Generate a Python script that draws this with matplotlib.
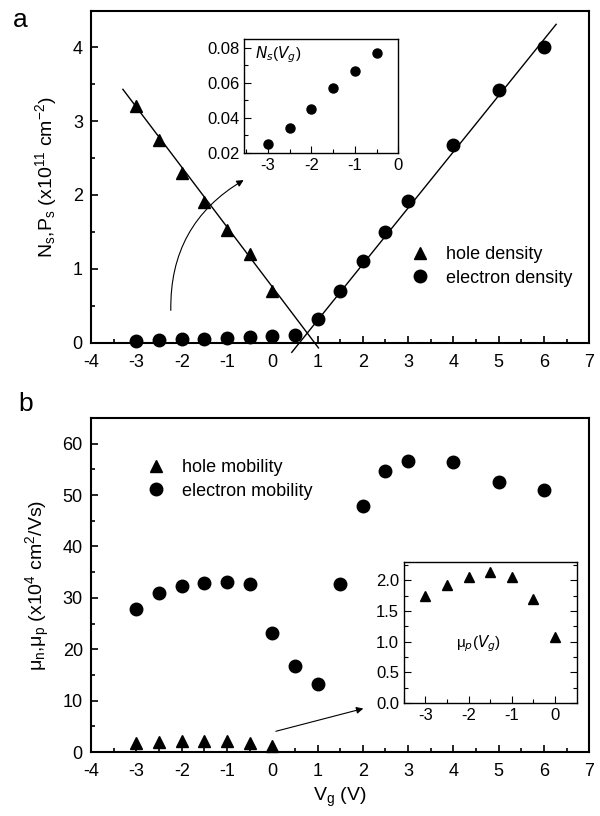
import matplotlib
matplotlib.use("Agg")
import matplotlib.pyplot as plt
from matplotlib.patches import FancyArrowPatch

plt.rcParams['font.family'] = ['Liberation Sans', 'DejaVu Sans']
plt.rcParams['mathtext.default'] = 'regular'
plt.rcParams['axes.unicode_minus'] = False

# panel a: carrier densities (x10^11 cm^-2)
vg_hole = [-3, -2.5, -2, -1.5, -1, -0.5, 0]
hole_density = [3.2, 2.75, 2.3, 1.9, 1.53, 1.2, 0.7]
vg_elec = [-3, -2.5, -2, -1.5, -1, -0.5, 0, 0.5, 1, 1.5, 2, 2.5, 3, 4, 5, 6]
elec_density = [0.025, 0.034, 0.045, 0.057, 0.067, 0.077, 0.09, 0.1,
                0.32, 0.7, 1.1, 1.5, 1.92, 2.68, 3.42, 4.0]
# linear fits (end points)
hole_fit_x = [-3.3, 1.02]
hole_fit_y = [3.43, -0.07]
elec_fit_x = [0.43, 6.27]
elec_fit_y = [-0.13, 4.31]
# inset a
vg_inset_a = [-3, -2.5, -2, -1.5, -1, -0.5]
ns_inset = [0.025, 0.034, 0.045, 0.057, 0.067, 0.077]

# panel b: mobilities (x10^4 cm^2/Vs)
vg_mob_e = [-3, -2.5, -2, -1.5, -1, -0.5, 0, 0.5, 1, 1.5, 2, 2.5, 3, 4, 5, 6]
elec_mob = [27.8, 31.0, 32.4, 32.8, 33.1, 32.7, 23.2, 16.8, 13.3, 32.7,
            47.8, 54.6, 56.6, 56.4, 52.6, 51.0]
vg_mob_h = [-3, -2.5, -2, -1.5, -1, -0.5, 0]
hole_mob = [1.75, 1.92, 2.06, 2.14, 2.06, 1.7, 1.08]

fig = plt.figure(figsize=(6, 8.16), dpi=100)
fs = 13

def style(ax, lw=1.5, size=fs):
    for s in ax.spines.values():
        s.set_linewidth(lw)
    ax.tick_params(which='both', direction='in', labelsize=size, width=lw * 0.8)
    ax.tick_params(which='major', length=5)
    ax.tick_params(which='minor', length=3)

# ---------- panel a ----------
axa = fig.add_axes([0.152, 0.58, 0.830, 0.4065])
axa.plot(hole_fit_x, hole_fit_y, color='k', lw=1.0, clip_on=False)
axa.plot(elec_fit_x, elec_fit_y, color='k', lw=1.0, clip_on=False)
axa.plot(vg_hole, hole_density, '^', color='k', ms=9, label='hole density', clip_on=False)
axa.plot(vg_elec, elec_density, 'o', color='k', ms=9, label='electron density', clip_on=False)
axa.set_xlim(-4, 7)
axa.set_ylim(0, 4.49)
axa.set_xticks(range(-4, 8))
axa.set_yticks([0, 1, 2, 3, 4])
axa.set_xticks([x + 0.5 for x in range(-4, 7)], minor=True)
axa.set_yticks([0.5, 1.5, 2.5, 3.5], minor=True)
style(axa)
axa.tick_params(axis='x', pad=8)
axa.tick_params(axis='y', pad=6)
axa.set_ylabel('N$_s$,P$_s$ (x10$^{11}$ cm$^{-2}$)', fontsize=fs + 1, labelpad=10)
axa.legend(loc='upper left', bbox_to_anchor=(0.61, 0.34), frameon=False,
           fontsize=fs, handletextpad=0.9, labelspacing=0.35, handlelength=1.0)
arr = FancyArrowPatch((-2.24, 0.4), (-0.58, 2.22), connectionstyle='arc3,rad=-0.3',
                      arrowstyle='-|>', mutation_scale=10, color='k', lw=0.8)
axa.add_patch(arr)
fig.text(0.022, 0.975, 'a', fontsize=19, va='center')

# inset a
ina = fig.add_axes([0.407, 0.8125, 0.2567, 0.1397])
ina.plot(vg_inset_a, ns_inset, 'o', color='k', ms=6.5)
ina.set_xlim(-3.55, 0)
ina.set_ylim(0.02, 0.085)
ina.set_xticks([-3, -2, -1, 0])
ina.set_yticks([0.02, 0.04, 0.06, 0.08])
ina.set_yticklabels(['0.02', '0.04', '0.06', '0.08'])
ina.set_xticks([-3.5, -2.5, -1.5, -0.5], minor=True)
ina.set_yticks([0.03, 0.05, 0.07], minor=True)
style(ina, lw=1.0, size=12)
ina.text(0.07, 0.86, '$\\mathit{N_s}$($\\mathit{V_g}$)', transform=ina.transAxes,
         fontsize=11, va='center')

# ---------- panel b ----------
axb = fig.add_axes([0.152, 0.0784, 0.830, 0.4093])
axb.plot(vg_mob_h, hole_mob, '^', color='k', ms=9, label='hole mobility', clip_on=False)
axb.plot(vg_mob_e, elec_mob, 'o', color='k', ms=9, label='electron mobility', clip_on=False)
axb.set_xlim(-4, 7)
axb.set_ylim(0, 65)
axb.set_xticks(range(-4, 8))
axb.set_yticks(range(0, 61, 10))
axb.set_xticks([x + 0.5 for x in range(-4, 7)], minor=True)
axb.set_yticks(range(5, 65, 10), minor=True)
style(axb)
axb.tick_params(axis='x', pad=8)
axb.tick_params(axis='y', pad=6)
axb.set_ylabel('$\\mu_n$,$\\mu_p$ (x10$^4$ cm$^2$/Vs)', fontsize=fs + 1, labelpad=8)
axb.set_xlabel('V$_g$ (V)', fontsize=fs + 1, labelpad=4)
axb.legend(loc='upper left', bbox_to_anchor=(0.08, 0.925), frameon=False,
           fontsize=fs, handletextpad=0.9, labelspacing=0.35, handlelength=1.0)
axb.annotate('', xy=(2.07, 8.6), xytext=(0.02, 3.9),
             arrowprops=dict(arrowstyle='-|>', color='k', lw=0.8, mutation_scale=10))
fig.text(0.03, 0.505, 'b', fontsize=19, va='center')

# inset b
inb = fig.add_axes([0.673, 0.1385, 0.288, 0.1728])
inb.plot(vg_mob_h, hole_mob, '^', color='k', ms=7)
inb.set_xlim(-3.5, 0.5)
inb.set_ylim(0, 2.3)
inb.set_xticks([-3, -2, -1, 0])
inb.set_yticks([0, 0.5, 1.0, 1.5, 2.0])
inb.set_yticklabels(['0.0', '0.5', '1.0', '1.5', '2.0'])
inb.set_xticks([-3.5, -2.5, -1.5, -0.5], minor=True)
inb.set_yticks([0.25, 0.75, 1.25, 1.75, 2.25], minor=True)
style(inb, lw=1.0, size=12)
inb.tick_params(which='both', right=True)
inb.text(0.3, 0.42, '$\\mu_{\\mathit{p}}$($\\mathit{V_g}$)', transform=inb.transAxes,
         fontsize=11, va='center')

fig.savefig('out.png', dpi=100)
